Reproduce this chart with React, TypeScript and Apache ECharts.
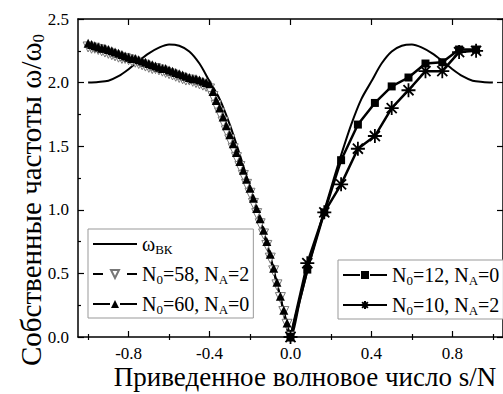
import React, { useEffect, useRef } from "react";
import * as echarts from "echarts";

// ---- data ----
const leftX = [
  -1.0, -0.983, -0.967, -0.95, -0.933, -0.917, -0.9, -0.883, -0.867, -0.85, -0.833, -0.817,
  -0.8, -0.783, -0.767, -0.75, -0.733, -0.717, -0.7, -0.683, -0.667, -0.65, -0.633, -0.617,
  -0.6, -0.583, -0.567, -0.55, -0.533, -0.517, -0.5, -0.483, -0.467, -0.45, -0.433, -0.417,
  -0.4, -0.383, -0.367, -0.35, -0.333, -0.317, -0.3, -0.283, -0.267, -0.25, -0.233, -0.217,
  -0.2, -0.183, -0.167, -0.15, -0.133, -0.117, -0.1, -0.083, -0.067, -0.05, -0.033, -0.017, 0.0,
];
const n60Values = [
  2.31, 2.3, 2.29, 2.28, 2.27, 2.27, 2.26, 2.25, 2.24, 2.23, 2.22, 2.21,
  2.2, 2.19, 2.19, 2.18, 2.17, 2.16, 2.15, 2.14, 2.13, 2.12, 2.11, 2.11,
  2.1, 2.09, 2.08, 2.07, 2.06, 2.05, 2.04, 2.03, 2.03, 2.02, 2.01, 2.0,
  1.99, 1.93, 1.86, 1.8, 1.73, 1.66, 1.59, 1.52, 1.45, 1.38, 1.31, 1.24,
  1.17, 1.09, 1.01, 0.93, 0.84, 0.75, 0.65, 0.54, 0.43, 0.32, 0.21, 0.11, 0.0,
];
const n58Values = [
  2.28, 2.27, 2.27, 2.26, 2.25, 2.24, 2.23, 2.22, 2.21, 2.2, 2.19, 2.19,
  2.18, 2.17, 2.16, 2.15, 2.14, 2.13, 2.12, 2.11, 2.11, 2.1, 2.09, 2.08,
  2.07, 2.06, 2.05, 2.04, 2.03, 2.02, 2.02, 2.01, 2.0, 1.99, 1.98, 1.97,
  1.95, 1.89, 1.82, 1.76, 1.69, 1.62, 1.55, 1.48, 1.41, 1.34, 1.27, 1.2,
  1.13, 1.05, 0.97, 0.89, 0.81, 0.72, 0.62, 0.52, 0.41, 0.31, 0.2, 0.1, 0.0,
];
const bkX = [
  -1.0, -0.95, -0.9, -0.85, -0.8, -0.75, -0.7, -0.65, -0.6, -0.55, -0.5, -0.45, -0.4, -0.35,
  -0.3, -0.25, -0.2, -0.15, -0.1, -0.05, 0.0, 0.05, 0.1, 0.15, 0.2, 0.25, 0.3, 0.35, 0.4,
  0.45, 0.5, 0.55, 0.6, 0.65, 0.7, 0.75, 0.8, 0.85, 0.9, 0.95, 1.0,
];
const bkValues = [
  2.0, 2.005, 2.015, 2.05, 2.105, 2.17, 2.23, 2.275, 2.3, 2.29, 2.245, 2.15, 2.01, 1.87,
  1.67, 1.43, 1.17, 0.9, 0.62, 0.31, 0.0, 0.31, 0.62, 0.9, 1.17, 1.43, 1.67, 1.87, 2.01,
  2.15, 2.245, 2.29, 2.3, 2.275, 2.23, 2.17, 2.105, 2.05, 2.015, 2.005, 2.0,
];
const rightX = [0, 0.083, 0.167, 0.25, 0.333, 0.417, 0.5, 0.583, 0.667, 0.75, 0.833, 0.917];
const n12Values = [0, 0.53, 0.98, 1.39, 1.67, 1.84, 1.97, 2.04, 2.15, 2.16, 2.26, 2.26];
const n10Values = [0, 0.58, 0.98, 1.2, 1.48, 1.58, 1.8, 1.94, 2.09, 2.09, 2.24, 2.25];

const xMajorTicks = [-0.8, -0.4, 0, 0.4, 0.8];
const xMinorTicks = [-1.0, -0.6, -0.2, 0.2, 0.6, 1.0];

const legendLabels: Record<string, string> = {
  wbk: "{a|ω}{s|ВК}",
  n58: "{a|N}{s|0}{a|=58, N}{s|A}{a|=2}",
  n60: "{a|N}{s|0}{a|=60, N}{s|A}{a|=0}",
  n12: "{a|N}{s|0}{a|=12, N}{s|A}{a|=0}",
  n10: "{a|N}{s|0}{a|=10, N}{s|A}{a|=2}",
};

const FONT = "Liberation Serif";
const STAR = "path://M0,-6L0,6M-6,0L6,0M-4.3,-4.3L4.3,4.3M-4.3,4.3L4.3,-4.3";
const TRI_DOWN = "path://M-5,-4L5,-4L0,5Z";

const pair = (xs: number[], ys: number[]) => xs.map((x, i) => [x, ys[i]]);

export default function App() {
  const ref = useRef<HTMLDivElement>(null);
  useEffect(() => {
    if (!ref.current) return;
    const chart = echarts.init(ref.current, null, { renderer: "svg" });
    const legendRich = {
      a: { fontFamily: FONT, fontSize: 20, color: "#000" },
      s: { fontFamily: FONT, fontSize: 13, color: "#000", padding: [11, 0, 0, 0] },
    };
    const axisLine = { show: true, onZero: false, lineStyle: { color: "#000", width: 1.5 } };
    const base = { type: "value" as const, min: -1.05, max: 1.05, splitLine: { show: false } };
    const tickStyle = { color: "#000", width: 1.2 };
    chart.setOption({
      animation: false,
      backgroundColor: "#fff",
      textStyle: { fontFamily: FONT },
      grid: { left: 78, top: 19, right: -8, bottom: 57, containLabel: false },
      xAxis: [
        {
          ...base,
          position: "bottom",
          axisLine,
          axisTick: { show: true, inside: true, length: 6, customValues: xMajorTicks, lineStyle: tickStyle },
          axisLabel: {
            show: true,
            customValues: xMajorTicks,
            formatter: (v: number) => v.toFixed(1),
            fontFamily: FONT,
            fontSize: 17,
            color: "#000",
            margin: 8,
          },
        },
        {
          ...base,
          position: "bottom",
          axisLine: { show: false },
          axisLabel: { show: false },
          axisTick: { show: true, inside: true, length: 3, customValues: xMinorTicks, lineStyle: tickStyle },
        },
        {
          ...base,
          position: "top",
          axisLine,
          axisLabel: { show: false },
          axisTick: { show: true, inside: true, length: 6, customValues: xMajorTicks, lineStyle: tickStyle },
        },
        {
          ...base,
          position: "top",
          axisLine: { show: false },
          axisLabel: { show: false },
          axisTick: { show: true, inside: true, length: 3, customValues: xMinorTicks, lineStyle: tickStyle },
        },
      ],
      yAxis: [
        {
          type: "value",
          min: 0,
          max: 2.5,
          interval: 0.5,
          position: "left",
          splitLine: { show: false },
          axisLine,
          axisTick: { show: true, inside: true, length: 6, lineStyle: tickStyle },
          minorTick: { show: true, splitNumber: 2, length: 3, lineStyle: tickStyle },
          axisLabel: {
            formatter: (v: number) => v.toFixed(1),
            fontFamily: FONT,
            fontSize: 17,
            color: "#000",
            margin: 9,
          },
        },
        {
          type: "value",
          min: 0,
          max: 2.5,
          interval: 0.5,
          position: "right",
          splitLine: { show: false },
          axisLine,
          axisTick: { show: true, inside: true, length: 6, lineStyle: tickStyle },
          axisLabel: { show: false },
        },
      ],
      legend: [
        {
          left: 88,
          top: 229,
          orient: "vertical",
          itemWidth: 44,
          itemHeight: 10,
          itemGap: 8,
          padding: [5, 4, 2, 4],
          borderColor: "#999",
          borderWidth: 1,
          backgroundColor: "#fff",
          formatter: (n: string) => legendLabels[n],
          textStyle: { fontFamily: FONT, fontSize: 20, color: "#000", rich: legendRich },
          data: [
            { name: "wbk", itemStyle: { color: "transparent", borderWidth: 0 } },
            { name: "n58", lineStyle: { type: [10, 24] } },
            { name: "n60", lineStyle: { type: [17, 10] } },
          ],
        },
        {
          left: 338,
          top: 260,
          orient: "vertical",
          itemWidth: 44,
          itemHeight: 10,
          itemGap: 8,
          padding: [5, 4, 2, 4],
          borderColor: "#999",
          borderWidth: 1,
          backgroundColor: "#fff",
          formatter: (n: string) => legendLabels[n],
          textStyle: { fontFamily: FONT, fontSize: 20, color: "#000", rich: legendRich },
          data: [{ name: "n12", lineStyle: { type: [17, 10] } }, { name: "n10" }],
        },
      ],
      series: [
        {
          name: "n58",
          type: "line",
          data: pair(leftX, n58Values),
          symbol: TRI_DOWN,
          symbolSize: 10,
          lineStyle: { color: "#000", width: 1.5 },
          itemStyle: { color: "#fff", borderColor: "#777", borderWidth: 1 },
        },
        {
          name: "n60",
          type: "line",
          data: pair(leftX, n60Values),
          symbol: "triangle",
          symbolSize: 9,
          lineStyle: { color: "#000", width: 1.5 },
          itemStyle: { color: "#000" },
        },
        {
          name: "wbk",
          type: "line",
          data: pair(bkX, bkValues),
          smooth: 0.3,
          showSymbol: false,
          symbol: "none",
          lineStyle: { color: "#000", width: 2 },
          itemStyle: { color: "#000" },
        },
        {
          name: "n12",
          type: "line",
          data: pair(rightX, n12Values),
          symbol: "rect",
          symbolSize: 8,
          lineStyle: { color: "#000", width: 2.5 },
          itemStyle: { color: "#000" },
        },
        {
          name: "n10",
          type: "line",
          data: pair(rightX, n10Values),
          symbol: STAR,
          symbolSize: 14,
          lineStyle: { color: "#000", width: 2.5 },
          itemStyle: { color: "transparent", borderColor: "#000", borderWidth: 1.8 },
        },
      ],
      graphic: [
        {
          type: "text",
          x: 31,
          y: 200,
          rotation: Math.PI / 2,
          style: {
            text: "{a|Собственные частоты ω/ω}{s|0}",
            align: "center",
            verticalAlign: "middle",
            rich: {
              a: { fontFamily: FONT, fontSize: 29, fill: "#000" },
              s: { fontFamily: FONT, fontSize: 17, fill: "#000", padding: [15, 0, 0, 0] },
            },
          },
        },
        {
          type: "text",
          x: 305,
          y: 377,
          style: {
            text: "Приведенное волновое число s/N",
            align: "center",
            verticalAlign: "middle",
            fontFamily: FONT,
            fontSize: 27,
            fill: "#000",
          },
        },
      ],
    });
    return () => chart.dispose();
  }, []);
  return (
    <div
      ref={ref}
      style={{ position: "absolute", left: 0, top: 0, width: 503, height: 394 }}
    />
  );
}
